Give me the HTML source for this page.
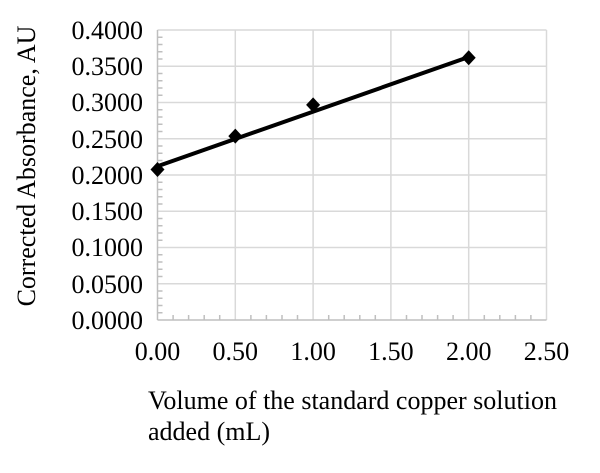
<!DOCTYPE html>
<html><head><style>body{margin:0;background:#fff}</style></head><body>
<svg width="600" height="468" xmlns="http://www.w3.org/2000/svg" font-family="Liberation Serif, serif" font-size="26">
<rect width="600" height="468" fill="#fff"/>
<g stroke="#d9d9d9" stroke-width="1.5">
<line x1="157.5" y1="30" x2="546.5" y2="30"/><line x1="157.5" y1="66.25" x2="546.5" y2="66.25"/><line x1="157.5" y1="102.5" x2="546.5" y2="102.5"/><line x1="157.5" y1="138.75" x2="546.5" y2="138.75"/><line x1="157.5" y1="175" x2="546.5" y2="175"/><line x1="157.5" y1="211.25" x2="546.5" y2="211.25"/><line x1="157.5" y1="247.5" x2="546.5" y2="247.5"/><line x1="157.5" y1="283.75" x2="546.5" y2="283.75"/>
<line x1="235.3" y1="30" x2="235.3" y2="320"/><line x1="313.1" y1="30" x2="313.1" y2="320"/><line x1="390.9" y1="30" x2="390.9" y2="320"/><line x1="468.7" y1="30" x2="468.7" y2="320"/><line x1="546.5" y1="30" x2="546.5" y2="320"/>
</g>
<g stroke="#bfbfbf" stroke-width="1.5">
<line x1="157.5" y1="30" x2="157.5" y2="320"/><line x1="157.5" y1="320" x2="546.5" y2="320"/>
<path d="M157.5 37.25h5M157.5 44.5h5M157.5 51.75h5M157.5 59h5M157.5 73.5h5M157.5 80.75h5M157.5 88h5M157.5 95.25h5M157.5 109.75h5M157.5 117h5M157.5 124.25h5M157.5 131.5h5M157.5 146h5M157.5 153.25h5M157.5 160.5h5M157.5 167.75h5M157.5 182.25h5M157.5 189.5h5M157.5 196.75h5M157.5 204h5M157.5 218.5h5M157.5 225.75h5M157.5 233h5M157.5 240.25h5M157.5 254.75h5M157.5 262h5M157.5 269.25h5M157.5 276.5h5M157.5 291h5M157.5 298.25h5M157.5 305.5h5M157.5 312.75h5"/>
<path d="M173.1 320v-5M188.6 320v-5M204.2 320v-5M219.7 320v-5M250.9 320v-5M266.4 320v-5M282 320v-5M297.5 320v-5M328.7 320v-5M344.2 320v-5M359.8 320v-5M375.3 320v-5M406.5 320v-5M422 320v-5M437.6 320v-5M453.1 320v-5M484.3 320v-5M499.8 320v-5M515.4 320v-5M530.9 320v-5"/>
</g>
<line x1="157.5" y1="166.3" x2="468.7" y2="57" stroke="#000" stroke-width="4"/>
<g fill="#000">
<path d="M157.5 162l7 7.5-7 7.5-7-7.5z"/>
<path d="M235.3 128.6l7 7.5-7 7.5-7-7.5z"/>
<path d="M313.1 97.4l7 7.5-7 7.5-7-7.5z"/>
<path d="M468.7 50.3l7 7.5-7 7.5-7-7.5z"/>
</g>
<g text-anchor="end" fill="#000">
<text x="143" y="39">0.4000</text><text x="143" y="75">0.3500</text><text x="143" y="111">0.3000</text><text x="143" y="148">0.2500</text><text x="143" y="184">0.2000</text><text x="143" y="220">0.1500</text><text x="143" y="256">0.1000</text><text x="143" y="293">0.0500</text><text x="143" y="329">0.0000</text>
</g>
<g text-anchor="middle" fill="#000">
<text x="157.5" y="360">0.00</text><text x="235.3" y="360">0.50</text><text x="313.1" y="360">1.00</text><text x="390.9" y="360">1.50</text><text x="468.7" y="360">2.00</text><text x="546.5" y="360">2.50</text>
</g>
<text transform="translate(35,166) rotate(-90)" text-anchor="middle">Corrected Absorbance, AU</text>
<text x="148" y="409">Volume of the standard copper solution</text>
<text x="148" y="440">added (mL)</text>
</svg>
</body></html>
